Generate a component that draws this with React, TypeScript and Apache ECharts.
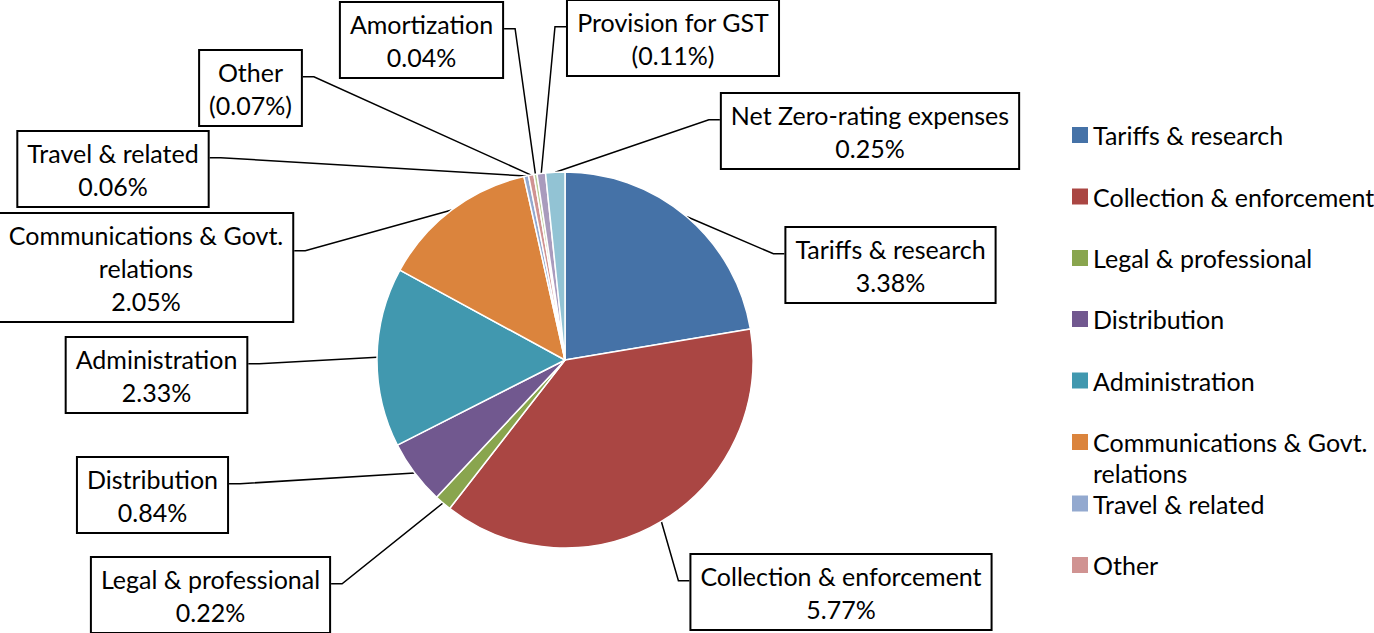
import React, { useEffect, useRef } from 'react';
import * as echarts from 'echarts';

// ---- data ----
const categories = [
  'Tariffs & research',
  'Collection & enforcement',
  'Legal & professional',
  'Distribution',
  'Administration',
  'Communications & Govt. relations',
  'Travel & related',
  'Other',
  'Amortization',
  'Provision for GST',
  'Net Zero-rating expenses',
];
const values = [3.38, 5.77, 0.22, 0.84, 2.33, 2.05, 0.06, 0.07, 0.04, 0.11, 0.25];
const legendCategories = categories.slice(0, 8);
const bracketedValues = ['Other', 'Provision for GST'];
const lineBreaks: Record<string, string> = {
  'Communications & Govt. relations': 'Communications & Govt.\nrelations',
};

// ---- styles / layout ----
const colors = [
  '#4572A7', '#AA4643', '#89A54E', '#71588F', '#4198AF', '#DB843D',
  '#93A9CF', '#D09392', '#B9CD96', '#A99BBD', '#92C3D4',
];
const FONT = 'Lato, "Open Sans", sans-serif';
const FONT_SIZE = 25;
const PIE_CENTER = [565, 360];
const PIE_RADIUS = 188;
// label box centre x, box top y
const labelBoxes: number[][] = [
  [890.5, 228],
  [841, 555],
  [210.5, 558],
  [152.5, 458],
  [156.5, 338],
  [146, 214],
  [113, 132],
  [250.5, 51],
  [421.5, 3],
  [673, 1],
  [870, 94],
];
const legendCenters = [135, 196.5, 258, 319, 380.5, 442, 503.5, 565];

export default function App() {
  const ref = useRef<HTMLDivElement>(null);
  useEffect(() => {
    if (!ref.current) return;
    const chart = echarts.init(ref.current, undefined, { renderer: 'svg' });
    const total = values.reduce((a, b) => a + b, 0);

    const legends = legendCategories.map((name, i) => {
      const twoLine = !!lineBreaks[name];
      return {
        data: [{ name, icon: 'rect' }],
        orient: 'vertical',
        left: 1072,
        top: legendCenters[i] - (twoLine ? 46.5 : 15.5),
        padding: 0,
        itemWidth: 16,
        itemHeight: 16,
        itemGap: 0,
        selectedMode: false,
        itemStyle: { borderWidth: 0 },
        // a leading empty line keeps the first text line level with the icon
        formatter: (n: string) => (lineBreaks[n] ? '\n' + lineBreaks[n] : n),
        textStyle: {
          fontFamily: FONT,
          fontSize: FONT_SIZE,
          color: '#000',
          lineHeight: 31,
        },
      };
    });

    chart.setOption({
      animation: false,
      color: colors,
      legend: legends,
      series: [
        {
          type: 'pie',
          center: PIE_CENTER,
          radius: PIE_RADIUS,
          startAngle: 90,
          clockwise: true,
          avoidLabelOverlap: false,
          itemStyle: { borderColor: '#fff', borderWidth: 1.5 },
          data: categories.map((name, i) => ({ name, value: values[i] })),
          label: {
            show: true,
            position: 'outside',
            fontFamily: FONT,
            fontSize: FONT_SIZE,
            lineHeight: 33,
            color: '#000',
            backgroundColor: '#fff',
            borderColor: '#000',
            borderWidth: 2,
            padding: [4, 9, 4, 9],
            align: 'center',
            formatter: (p: any) => {
              const n = lineBreaks[p.name] || p.name;
              const v = p.value.toFixed(2) + '%';
              return n + '\n' + (bracketedValues.includes(p.name) ? '(' + v + ')' : v);
            },
          },
          labelLine: {
            show: true,
            length: 10,
            length2: 10,
            smooth: false,
            lineStyle: { color: '#000', width: 1.5 },
          },
          labelLayout: (params: any) => {
            const i = params.dataIndex;
            const [cx, top] = labelBoxes[i];
            const w = params.labelRect.width;
            const h = params.labelRect.height;
            const rightSide = cx > PIE_CENTER[0];
            const anchorX = rightSide ? cx - w / 2 : cx + w / 2;
            const anchorY = top + h * 0.33;
            const elbowX = rightSide ? anchorX - 11 : anchorX + 11;
            let start = params.labelLinePoints && params.labelLinePoints[0];
            if (!start) {
              let cum = 0;
              for (let k = 0; k < i; k++) cum += values[k];
              const mid = ((cum + values[i] / 2) / total) * Math.PI * 2;
              start = [
                PIE_CENTER[0] + PIE_RADIUS * Math.sin(mid),
                PIE_CENTER[1] - PIE_RADIUS * Math.cos(mid),
              ];
            }
            return {
              x: cx,
              y: top,
              align: 'center',
              verticalAlign: 'top',
              labelLinePoints: [start, [elbowX, anchorY], [anchorX, anchorY]],
            };
          },
        },
      ],
    });
    return () => chart.dispose();
  }, []);
  return (
    <div
      ref={ref}
      style={{ position: 'fixed', left: 0, top: 0, width: 1374, height: 633, background: '#fff' }}
    />
  );
}
